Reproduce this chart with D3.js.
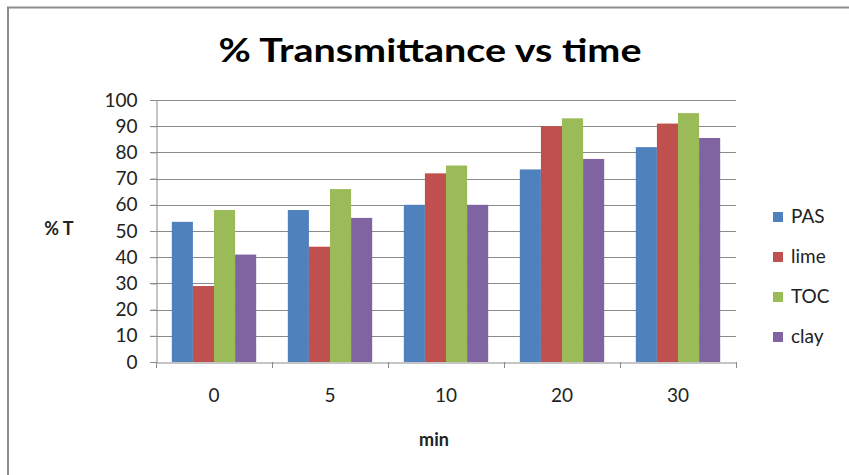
<!DOCTYPE html>
<html>
<head>
<meta charset="utf-8">
<script src="https://cdn.jsdelivr.net/npm/d3@7"></script>
<style>
  body { margin: 0; background: #fff; }
  svg { display: block; font-family: Lato, "Open Sans", sans-serif; }
</style>
</head>
<body>
<div id="chart"></div>
<script>
    // data
    const categories = ["0", "5", "10", "20", "30"];
    const seriesNames = ["PAS", "lime", "TOC", "clay"];
    const PAS  = [53.5, 58, 60, 73.5, 82];
    const lime = [29, 44, 72, 90, 91];
    const TOC  = [58, 66, 75, 93, 95];
    const clay = [41, 55, 60, 77.5, 85.5];
    const yTicks = [0, 10, 20, 30, 40, 50, 60, 70, 80, 90, 100];
    const colors = ["#4f81bd", "#c0504d", "#9bbb59", "#8064a2"];

    const seriesValues = [PAS, lime, TOC, clay];
    const rows = categories.map((c, i) => ({
        cat: c,
        vals: seriesNames.map((s, j) => ({ name: s, value: seriesValues[j][i] }))
    }));

    const width = 849, height = 475;
    const plot = { left: 156, right: 736, top: 100, bottom: 362 };

    const svg = d3.select("#chart").append("svg")
        .attr("width", width)
        .attr("height", height);

    // outer frame (right / bottom edges fall off the picture)
    svg.append("rect")
        .attr("x", 8).attr("y", 7.5)
        .attr("width", width + 20).attr("height", height + 20)
        .attr("fill", "none")
        .attr("stroke", "#8c8c8c")
        .attr("stroke-width", 2);

    const x0 = d3.scaleBand().domain(categories).range([plot.left, plot.right]).padding(0);
    const x1 = d3.scaleBand().domain(seriesNames).range([0, x0.bandwidth()])
        .paddingInner(0).paddingOuter(0.75);
    const y = d3.scaleLinear().domain([0, 100]).range([plot.bottom, plot.top]);
    const color = d3.scaleOrdinal().domain(seriesNames).range(colors);

    // gridlines
    svg.append("g")
        .selectAll("line")
        .data(yTicks.filter(t => t > 0))
        .enter()
        .append("line")
        .attr("x1", plot.left - 6)
        .attr("x2", plot.right)
        .attr("y1", d => Math.round(y(d)) + 0.5)
        .attr("y2", d => Math.round(y(d)) + 0.5)
        .attr("stroke", "#8a8a8a")
        .attr("stroke-width", 1);

    // y axis
    const yAxis = svg.append("g")
        .attr("transform", `translate(${plot.left + 0.5},0)`)
        .call(d3.axisLeft(y).tickValues(yTicks).tickSize(6).tickPadding(13));
    yAxis.select(".domain").attr("stroke", "#8a8a8a");
    yAxis.selectAll(".tick line").attr("stroke", "#8a8a8a");
    yAxis.selectAll(".tick text")
        .attr("font-size", 19)
        .attr("fill", "#222")
        .attr("font-family", "Lato, sans-serif");

    // bars
    svg.append("g")
        .selectAll("g")
        .data(rows)
        .enter()
        .append("g")
        .attr("transform", d => `translate(${x0(d.cat)},0)`)
        .selectAll("rect")
        .data(d => d.vals)
        .enter()
        .append("rect")
        .attr("x", d => x1(d.name))
        .attr("width", x1.bandwidth())
        .attr("y", d => y(d.value))
        .attr("height", d => y(0) - y(d.value))
        .attr("fill", d => color(d.name));

    // x axis
    const xAxis = svg.append("g")
        .attr("transform", `translate(0,${plot.bottom + 0.5})`)
        .call(d3.axisBottom(x0).tickSize(0).tickPadding(26));
    xAxis.select(".domain").attr("stroke", "#8a8a8a");
    xAxis.selectAll(".tick text")
        .attr("font-size", 19)
        .attr("fill", "#222")
        .attr("font-family", "Lato, sans-serif");
    // tick marks between categories
    const bounds = categories.map(c => x0(c)).concat([plot.right]);
    svg.append("g")
        .selectAll("line")
        .data(bounds)
        .enter()
        .append("line")
        .attr("x1", d => Math.round(d) + 0.5)
        .attr("x2", d => Math.round(d) + 0.5)
        .attr("y1", plot.bottom)
        .attr("y2", plot.bottom + 6)
        .attr("stroke", "#8a8a8a");

    // title
    svg.append("text")
        .attr("x", 430)
        .attr("y", 62)
        .attr("text-anchor", "middle")
        .attr("font-size", 33)
        .attr("font-weight", "bold")
        .attr("fill", "#000")
        .attr("textLength", 423)
        .attr("lengthAdjust", "spacingAndGlyphs")
        .text("% Transmittance vs time");

    // axis titles
    svg.append("text")
        .attr("x", 59)
        .attr("y", 235)
        .attr("text-anchor", "middle")
        .attr("font-size", 18)
        .attr("font-weight", "bold")
        .attr("fill", "#222")
        .text("% T");

    svg.append("text")
        .attr("x", 434)
        .attr("y", 446)
        .attr("text-anchor", "middle")
        .attr("font-size", 18)
        .attr("font-weight", "bold")
        .attr("fill", "#222")
        .text("min");

    // legend
    const legend = svg.append("g")
        .selectAll("g")
        .data(seriesNames)
        .enter()
        .append("g")
        .attr("transform", (d, i) => `translate(773,${217 + i * 40})`);
    legend.append("rect")
        .attr("x", 0).attr("y", -5)
        .attr("width", 10).attr("height", 10)
        .attr("fill", d => color(d));
    legend.append("text")
        .attr("x", 18)
        .attr("y", 6)
        .attr("font-size", 19)
        .attr("fill", "#222")
        .text(d => d);
</script>
</body>
</html>
